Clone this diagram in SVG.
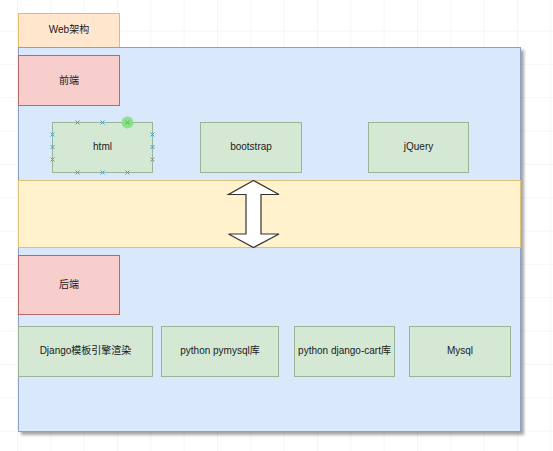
<svg xmlns="http://www.w3.org/2000/svg" width="553" height="451" viewBox="0 0 553 451">
  <defs>
    <pattern id="grid" x="17" y="30.5" width="33.333" height="33.333" patternUnits="userSpaceOnUse">
      <path d="M0 0H33.333M0 0V33.333" fill="none" stroke="#ebebeb" stroke-width="1"/>
    </pattern>
    <filter id="shadow" x="-5%" y="-5%" width="110%" height="110%">
      <feGaussianBlur in="SourceAlpha" stdDeviation="1.5"/>
      <feOffset dx="2.5" dy="2.5" result="b"/>
      <feComponentTransfer><feFuncA type="linear" slope="0.35"/></feComponentTransfer>
      <feMerge><feMergeNode/><feMergeNode in="SourceGraphic"/></feMerge>
    </filter>
  </defs>
  <style>
    text { font-family: "Liberation Sans", Arial, "Noto Sans CJK SC", sans-serif; font-size: 10px; fill: #1a1a1a; text-anchor: middle; dominant-baseline: central; }
    .green { fill: #d5e8d4; stroke: #9ab596; stroke-width: 1; }
    .red { fill: #f8cecc; stroke: #b86a68; stroke-width: 1; }
    .handle { stroke: #3fa0d8; stroke-width: 1; }
  </style>
  <rect width="553" height="451" fill="#ffffff"/>
  <rect width="553" height="451" fill="url(#grid)"/>

  <g id="tab">
    <rect x="18.5" y="13.5" width="101" height="34" fill="#ffe6cc" stroke="#e0bc6a"/>
    <text x="69" y="29">Web架构</text>
  </g>

  <g id="container">
    <rect x="18.5" y="47.5" width="502" height="384" fill="#dae8fc" stroke="#8d9fc4" filter="url(#shadow)"/>
  </g>

  <g id="band">
    <rect x="18.5" y="180.5" width="502" height="67" fill="#fff2cc" stroke="#dcc27a"/>
  </g>

  <g id="frontend">
    <rect class="red" x="18.5" y="55.5" width="101" height="50"/>
    <text x="69" y="80">前端</text>
  </g>

  <g id="html">
    <rect class="green" x="52.5" y="122.5" width="100" height="50"/>
    <text x="102.5" y="146">html</text>
    <circle cx="127.5" cy="122.5" r="6" fill="#7ee07e" opacity="0.85"/>
    <g class="handle">
      <path d="M75.5 120.5l4 4M79.5 120.5l-4 4M100.5 120.5l4 4M104.5 120.5l-4 4M125.5 120.5l4 4M129.5 120.5l-4 4"/>
      <path d="M75.5 170.5l4 4M79.5 170.5l-4 4M100.5 170.5l4 4M104.5 170.5l-4 4M125.5 170.5l4 4M129.5 170.5l-4 4"/>
      <path d="M50.5 132.5l4 4M54.5 132.5l-4 4M50.5 145l4 4M54.5 145l-4 4M50.5 157.5l4 4M54.5 157.5l-4 4"/>
      <path d="M150.5 132.5l4 4M154.5 132.5l-4 4M150.5 145l4 4M154.5 145l-4 4M150.5 157.5l4 4M154.5 157.5l-4 4"/>
    </g>
  </g>

  <g id="bootstrap">
    <rect class="green" x="200.5" y="122.5" width="101" height="50"/>
    <text x="251" y="146">bootstrap</text>
  </g>

  <g id="jquery">
    <rect class="green" x="368.5" y="122.5" width="100" height="50"/>
    <text x="418.5" y="146">jQuery</text>
  </g>

  <g id="connectors">
    <polygon points="253.5,180.5 228.5,194.5 246,194.5 246,234 228.5,234 253.5,247.5 279,234 261,234 261,194.5 279,194.5" fill="#ffffff" stroke="#333333" stroke-width="1.2" stroke-linejoin="miter"/>
  </g>

  <g id="backend">
    <rect class="red" x="18.5" y="255.5" width="101" height="59"/>
    <text x="69" y="284">后端</text>
  </g>

  <g id="django">
    <rect class="green" x="18.5" y="326.5" width="134" height="50"/>
    <text x="85.5" y="350">Django模板引擎渲染</text>
  </g>

  <g id="pymysql">
    <rect class="green" x="161.5" y="326.5" width="117" height="50"/>
    <text x="220" y="350">python pymysql库</text>
  </g>

  <g id="djangocart">
    <rect class="green" x="294.5" y="326.5" width="100" height="50"/>
    <text x="344.5" y="350">python django-cart库</text>
  </g>

  <g id="mysql">
    <rect class="green" x="409.5" y="326.5" width="101" height="50"/>
    <text x="460" y="350">Mysql</text>
  </g>
</svg>
